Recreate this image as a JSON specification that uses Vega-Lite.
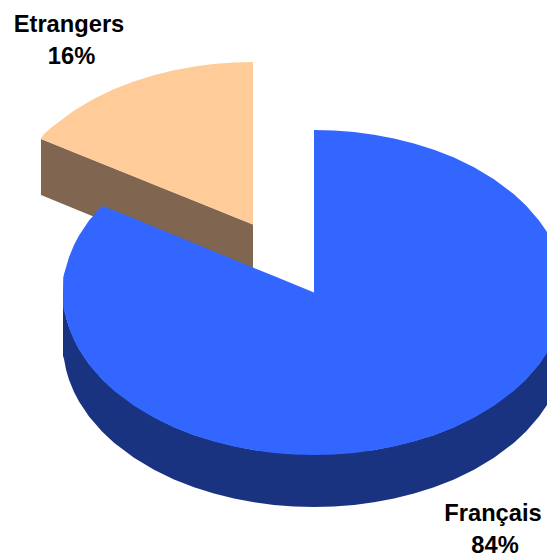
{"$schema":"https://vega.github.io/schema/vega-lite/v6.json","width":547,"height":555,"padding":0,"autosize":{"type":"none"},"background":"white","view":{"stroke":null},
"datasets":{"parts":[
{"part":"Etrangers côté","x":41,"y":139,"y2":195},{"part":"Etrangers côté","x":253,"y":224.5,"y2":282},
{"part":"Etrangers","x":41,"y":138.5,"y2":139},{"part":"Etrangers","x":44,"y":134,"y2":140.2},{"part":"Etrangers","x":53,"y":126.3,"y2":143.8},{"part":"Etrangers","x":73,"y":111.3,"y2":152},{"part":"Etrangers","x":93,"y":99.3,"y2":160},{"part":"Etrangers","x":113,"y":89.6,"y2":168},{"part":"Etrangers","x":133,"y":81.8,"y2":176},{"part":"Etrangers","x":153,"y":75.5,"y2":184.2},{"part":"Etrangers","x":173,"y":70.5,"y2":192.2},{"part":"Etrangers","x":193,"y":66.7,"y2":200.2},{"part":"Etrangers","x":213,"y":64.1,"y2":208.3},{"part":"Etrangers","x":233,"y":62.5,"y2":216.4},{"part":"Etrangers","x":253,"y":62,"y2":224.5},
{"part":"Français côté","x":63,"y":292,"y2":356},{"part":"Français côté","x":64,"y":292,"y2":359},{"part":"Français côté","x":66,"y":317,"y2":369.5},{"part":"Français côté","x":69,"y":327,"y2":379.8},{"part":"Français côté","x":74,"y":339,"y2":392.1},{"part":"Français côté","x":79,"y":349,"y2":401.6},{"part":"Français côté","x":89,"y":364,"y2":416.5},{"part":"Français côté","x":102,"y":379,"y2":431.5},{"part":"Français côté","x":114,"y":390,"y2":442.7},{"part":"Français côté","x":134,"y":405,"y2":457.7},{"part":"Français côté","x":154,"y":417,"y2":469.7},{"part":"Français côté","x":174,"y":427,"y2":479.4},{"part":"Français côté","x":194,"y":435,"y2":487.2},{"part":"Français côté","x":214,"y":441,"y2":493.5},{"part":"Français côté","x":234,"y":446,"y2":498.5},{"part":"Français côté","x":254,"y":450,"y2":502.3},{"part":"Français côté","x":274,"y":452,"y2":504.9},{"part":"Français côté","x":294,"y":454,"y2":506.5},{"part":"Français côté","x":314,"y":454,"y2":507},{"part":"Français côté","x":334,"y":454,"y2":506.5},{"part":"Français côté","x":354,"y":452,"y2":504.9},{"part":"Français côté","x":374,"y":450,"y2":502.3},{"part":"Français côté","x":394,"y":446,"y2":498.5},{"part":"Français côté","x":414,"y":441,"y2":493.5},{"part":"Français côté","x":434,"y":435,"y2":487.2},{"part":"Français côté","x":454,"y":427,"y2":479.4},{"part":"Français côté","x":474,"y":417,"y2":469.7},{"part":"Français côté","x":494,"y":405,"y2":457.7},{"part":"Français côté","x":514,"y":390,"y2":442.7},{"part":"Français côté","x":526,"y":379,"y2":431.5},{"part":"Français côté","x":539,"y":364,"y2":416.5},{"part":"Français côté","x":547,"y":352,"y2":405},
{"part":"Français","x":63,"y":292.5,"y2":292.5},{"part":"Français","x":63.2,"y":278,"y2":307},{"part":"Français","x":64,"y":274,"y2":311},{"part":"Français","x":66,"y":267.5,"y2":317.5},{"part":"Français","x":69,"y":257.2,"y2":327.8},{"part":"Français","x":74,"y":244.9,"y2":340.1},{"part":"Français","x":79,"y":235.4,"y2":349.6},{"part":"Français","x":89,"y":220.5,"y2":364.5},{"part":"Français","x":102,"y":206,"y2":379.5},{"part":"Français","x":114,"y":210.4,"y2":390.7},{"part":"Français","x":134,"y":218.6,"y2":405.7},{"part":"Français","x":154,"y":226.8,"y2":417.7},{"part":"Français","x":174,"y":235,"y2":427.4},{"part":"Français","x":194,"y":243.3,"y2":435.2},{"part":"Français","x":214,"y":251.5,"y2":441.5},{"part":"Français","x":234,"y":259.7,"y2":446.5},{"part":"Français","x":254,"y":267.9,"y2":450.3},{"part":"Français","x":274,"y":276.1,"y2":452.9},{"part":"Français","x":294,"y":284.3,"y2":454.5},{"part":"Français","x":314,"y":292.5,"y2":455},{"part":"Français","x":314,"y":130,"y2":455},{"part":"Français","x":334,"y":130.5,"y2":454.5},{"part":"Français","x":354,"y":132.1,"y2":452.9},{"part":"Français","x":374,"y":134.7,"y2":450.3},{"part":"Français","x":394,"y":138.5,"y2":446.5},{"part":"Français","x":414,"y":143.5,"y2":441.5},{"part":"Français","x":434,"y":149.8,"y2":435.2},{"part":"Français","x":454,"y":157.6,"y2":427.4},{"part":"Français","x":474,"y":167.3,"y2":417.7},{"part":"Français","x":494,"y":179.3,"y2":405.7},{"part":"Français","x":514,"y":194.3,"y2":390.7},{"part":"Français","x":526,"y":205.5,"y2":379.5},{"part":"Français","x":539,"y":220.5,"y2":364.5},{"part":"Français","x":547,"y":232.1,"y2":352.9}
],
"labels":[{"label":"Etrangers","x":69,"y":32},{"label":"16%","x":71.5,"y":64},{"label":"Français","x":493,"y":521},{"label":"84%","x":495,"y":552.5}]},
"encoding":{
"x":{"field":"x","type":"quantitative","scale":{"domain":[0,547],"nice":false,"zero":false},"axis":null},
"y":{"field":"y","type":"quantitative","scale":{"domain":[555,0],"nice":false,"zero":false},"axis":null}
},
"layer":[
{"data":{"name":"parts"},"transform":[{"filter":"datum.part==='Etrangers côté'"}],"mark":{"type":"area","color":"#806650","interpolate":"linear"},"encoding":{"y2":{"field":"y2"},"order":{"value":null}}},
{"data":{"name":"parts"},"transform":[{"filter":"datum.part==='Etrangers'"}],"mark":{"type":"area","color":"#FFCC99","interpolate":"linear"},"encoding":{"y2":{"field":"y2"},"order":{"value":null}}},
{"data":{"name":"parts"},"transform":[{"filter":"datum.part==='Français côté'"}],"mark":{"type":"area","color":"#1A3380","interpolate":"linear"},"encoding":{"y2":{"field":"y2"},"order":{"value":null}}},
{"data":{"name":"parts"},"transform":[{"filter":"datum.part==='Français'"}],"mark":{"type":"area","color":"#3366FF","interpolate":"linear"},"encoding":{"y2":{"field":"y2"},"order":{"value":null}}},
{"data":{"name":"labels"},"mark":{"type":"text","font":"Liberation Sans","fontWeight":"bold","fontSize":23.7,"baseline":"alphabetic","align":"center","color":"#000000"},"encoding":{"text":{"field":"label"}}}
]}
